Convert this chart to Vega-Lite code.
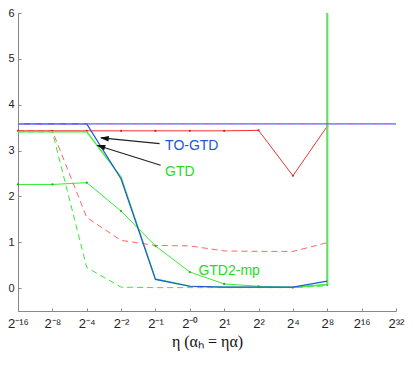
{
  "$schema": "https://vega.github.io/schema/vega-lite/v6.json",
  "width": 378,
  "height": 298,
  "autosize": {"type": "none"},
  "padding": {"left": 18, "top": 13, "right": 19, "bottom": 64},
  "background": "white",
  "config": {"view": {"stroke": null}, "axis": {"labelOverlap": false}, "axisX": {"labelOverlap": false}},
  "datasets": {
    "lines": [
      {"s": "gtd2mp", "x": 0, "y": 2.26, "o": 0},
      {"s": "gtd2mp", "x": 1, "y": 2.26, "o": 1},
      {"s": "gtd2mp", "x": 2, "y": 2.30, "o": 2},
      {"s": "gtd2mp", "x": 3, "y": 1.68, "o": 3},
      {"s": "gtd2mp", "x": 4, "y": 0.92, "o": 4},
      {"s": "gtd2mp", "x": 5, "y": 0.35, "o": 5},
      {"s": "gtd2mp", "x": 6, "y": 0.09, "o": 6},
      {"s": "gtd2mp", "x": 7, "y": 0.04, "o": 7},
      {"s": "gtd2mp", "x": 8, "y": 0.01, "o": 8},
      {"s": "gtd2mp", "x": 9, "y": 0.07, "o": 9},
      {"s": "gdash", "x": 0, "y": 3.41, "o": 0},
      {"s": "gdash", "x": 1, "y": 3.41, "o": 1},
      {"s": "gdash", "x": 2, "y": 0.45, "o": 2},
      {"s": "gdash", "x": 3, "y": 0.02, "o": 3},
      {"s": "gdash", "x": 4, "y": 0.01, "o": 4},
      {"s": "gdash", "x": 5, "y": 0.01, "o": 5},
      {"s": "gdash", "x": 6, "y": 0.01, "o": 6},
      {"s": "gdash", "x": 7, "y": 0.01, "o": 7},
      {"s": "gdash", "x": 8, "y": 0.01, "o": 8},
      {"s": "gdash", "x": 9, "y": 0.05, "o": 9},
      {"s": "rdash", "x": 0, "y": 3.43, "o": 0},
      {"s": "rdash", "x": 1, "y": 3.43, "o": 1},
      {"s": "rdash", "x": 2, "y": 1.54, "o": 2},
      {"s": "rdash", "x": 3, "y": 1.04, "o": 3},
      {"s": "rdash", "x": 4, "y": 0.93, "o": 4},
      {"s": "rdash", "x": 5, "y": 0.92, "o": 5},
      {"s": "rdash", "x": 6, "y": 0.81, "o": 6},
      {"s": "rdash", "x": 7, "y": 0.80, "o": 7},
      {"s": "rdash", "x": 8, "y": 0.80, "o": 8},
      {"s": "rdash", "x": 9, "y": 0.99, "o": 9},
      {"s": "red", "x": 0, "y": 3.43, "o": 0},
      {"s": "red", "x": 1, "y": 3.43, "o": 1},
      {"s": "red", "x": 2, "y": 3.43, "o": 2},
      {"s": "red", "x": 3, "y": 3.43, "o": 3},
      {"s": "red", "x": 4, "y": 3.43, "o": 4},
      {"s": "red", "x": 5, "y": 3.43, "o": 5},
      {"s": "red", "x": 6, "y": 3.43, "o": 6},
      {"s": "red", "x": 7, "y": 3.44, "o": 7},
      {"s": "red", "x": 8, "y": 2.45, "o": 8},
      {"s": "red", "x": 9, "y": 3.53, "o": 9},
      {"s": "gtd", "x": 0, "y": 3.41, "o": 0},
      {"s": "gtd", "x": 1, "y": 3.41, "o": 1},
      {"s": "gtd", "x": 2, "y": 3.41, "o": 2},
      {"s": "gtd", "x": 3, "y": 2.42, "o": 3},
      {"s": "gtd", "x": 4, "y": 0.2, "o": 4},
      {"s": "gtd", "x": 5, "y": 0.04, "o": 5},
      {"s": "gtd", "x": 6, "y": 0.02, "o": 6},
      {"s": "gtd", "x": 7, "y": 0.02, "o": 7},
      {"s": "gtd", "x": 8, "y": 0.02, "o": 8},
      {"s": "gtd", "x": 9, "y": 0.08, "o": 9},
      {"s": "gtdv", "x": 9, "y": 0.08, "o": 0},
      {"s": "gtdv", "x": 9, "y": 6, "o": 1},
      {"s": "togtd", "x": 0, "y": 3.58, "o": 0},
      {"s": "togtd", "x": 1, "y": 3.58, "o": 1},
      {"s": "togtd", "x": 2, "y": 3.58, "o": 2},
      {"s": "togtd", "x": 3, "y": 2.38, "o": 3},
      {"s": "togtd", "x": 4, "y": 0.19, "o": 4},
      {"s": "togtd", "x": 5, "y": 0.04, "o": 5},
      {"s": "togtd", "x": 6, "y": 0.02, "o": 6},
      {"s": "togtd", "x": 7, "y": 0.02, "o": 7},
      {"s": "togtd", "x": 8, "y": 0.02, "o": 8},
      {"s": "togtd", "x": 9, "y": 0.15, "o": 9},
      {"s": "purple", "x": 0, "y": 3.58, "o": 0},
      {"s": "purple", "x": 11, "y": 3.58, "o": 1}
    ],
    "arrows": [
      {"x": 4.12, "y": 3.15, "x2": 2.42, "y2": 3.275, "hx": 2.38, "hy": 3.28, "a": 276},
      {"x": 4.15, "y": 2.68, "x2": 2.32, "y2": 3.11, "hx": 2.28, "hy": 3.12, "a": 287}
    ],
    "labels": [
      {"t": "TO-GTD", "x": 4.28, "y": 3.09, "c": "blue"},
      {"t": "GTD", "x": 4.28, "y": 2.54, "c": "green"},
      {"t": "GTD2-mp", "x": 5.25, "y": 0.38, "c": "green"}
    ]
  },
  "encoding": {
    "x": {"field": "x", "type": "quantitative",
      "scale": {"domain": [0, 11], "nice": false, "zero": false},
      "axis": {
        "values": [0, 1, 2, 3, 4, 5, 6, 7, 8, 9, 10, 11],
        "labelExpr": "['2⁻¹⁶','2⁻⁸','2⁻⁴','2⁻²','2⁻¹','2⁻⁰','2¹','2²','2⁴','2⁸','2¹⁶','2³²'][datum.value]",
        "grid": false, "domainColor": "#888888", "tickColor": "#888888", "tickSize": -3,
        "labelPadding": 9, "labelFont": "Liberation Sans", "labelFontSize": 13, "labelColor": "#222222",
        "labelOverlap": false, "labelBound": false, "labelFlush": false,
        "title": "η (αₕ = ηα)", "titleFont": "Liberation Serif", "titleFontSize": 16, "titleFontWeight": "normal",
        "titleColor": "#111111", "titlePadding": 3
      }},
    "y": {"field": "y", "type": "quantitative",
      "scale": {"domain": [-0.5, 6], "nice": false, "zero": false},
      "axis": {
        "values": [0, 1, 2, 3, 4, 5, 6], "grid": false, "domainColor": "#888888", "tickColor": "#888888",
        "tickSize": -3, "labelPadding": 7, "labelFont": "Liberation Sans", "labelFontSize": 11,
        "labelColor": "#222222", "title": null, "labelOverlap": false
      }}
  },
  "layer": [
    {
      "data": {"name": "lines"},
      "transform": [{"filter": "datum.s === 'gdash'"}],
      "mark": {"type": "line", "color": "#33ee33", "strokeWidth": 1, "strokeDash": [6, 4]},
      "encoding": {"order": {"field": "o", "type": "quantitative"}}
    },
    {
      "data": {"name": "lines"},
      "transform": [{"filter": "datum.s === 'rdash'"}],
      "mark": {"type": "line", "color": "#ff6666", "strokeWidth": 1, "strokeDash": [6, 4]},
      "encoding": {"order": {"field": "o", "type": "quantitative"}}
    },
    {
      "data": {"name": "lines"},
      "transform": [{"filter": "datum.s === 'gtd2mp'"}],
      "mark": {"type": "line", "color": "#33ee33", "strokeWidth": 1, "point": {"filled": true, "size": 5, "color": "#22aa22"}},
      "encoding": {"order": {"field": "o", "type": "quantitative"}}
    },
    {
      "data": {"name": "lines"},
      "transform": [{"filter": "datum.s === 'red'"}],
      "mark": {"type": "line", "color": "#ee3333", "strokeWidth": 1, "point": {"filled": true, "size": 5, "color": "#cc2222"}},
      "encoding": {"order": {"field": "o", "type": "quantitative"}}
    },
    {
      "data": {"name": "lines"},
      "transform": [{"filter": "datum.s === 'gtd'"}],
      "mark": {"type": "line", "color": "#44ee44", "strokeWidth": 1.3},
      "encoding": {"order": {"field": "o", "type": "quantitative"}}
    },
    {
      "data": {"name": "lines"},
      "transform": [{"filter": "datum.s === 'gtdv'"}],
      "mark": {"type": "line", "color": "#66e066", "strokeWidth": 2.2},
      "encoding": {"order": {"field": "o", "type": "quantitative"}}
    },
    {
      "data": {"name": "lines"},
      "transform": [{"filter": "datum.s === 'togtd'"}],
      "mark": {"type": "line", "color": "#2255dd", "strokeWidth": 1.2},
      "encoding": {"order": {"field": "o", "type": "quantitative"}}
    },
    {
      "data": {"name": "lines"},
      "transform": [{"filter": "datum.s === 'purple'"}],
      "mark": {"type": "line", "color": "#8844ff", "strokeWidth": 1.3},
      "encoding": {"order": {"field": "o", "type": "quantitative"}}
    },
    {
      "data": {"name": "lines"},
      "transform": [{"filter": "datum.s === 'purple'"}],
      "mark": {"type": "line", "color": "#55ccff", "strokeWidth": 1, "strokeDash": [6, 6], "opacity": 0.7},
      "encoding": {"order": {"field": "o", "type": "quantitative"}}
    },
    {
      "data": {"name": "arrows"},
      "mark": {"type": "rule", "color": "#222222", "strokeWidth": 1.2},
      "encoding": {
        "x2": {"field": "x2"},
        "y2": {"field": "y2"}
      }
    },
    {
      "data": {"name": "arrows"},
      "mark": {"type": "point", "filled": true, "color": "#111111", "opacity": 1,
        "shape": "M0,0L0.55,1.8L-0.55,1.8Z", "size": 100},
      "encoding": {
        "x": {"field": "hx", "type": "quantitative"},
        "y": {"field": "hy", "type": "quantitative"},
        "angle": {"field": "a", "type": "quantitative", "scale": null}
      }
    },
    {
      "data": {"name": "labels"},
      "mark": {"type": "text", "align": "left", "baseline": "middle", "font": "Liberation Sans", "fontSize": 14},
      "encoding": {
        "text": {"field": "t"},
        "color": {"field": "c", "type": "nominal", "scale": {"domain": ["blue", "green"], "range": ["#2255dd", "#22dd22"]}, "legend": null}
      }
    }
  ]
}
